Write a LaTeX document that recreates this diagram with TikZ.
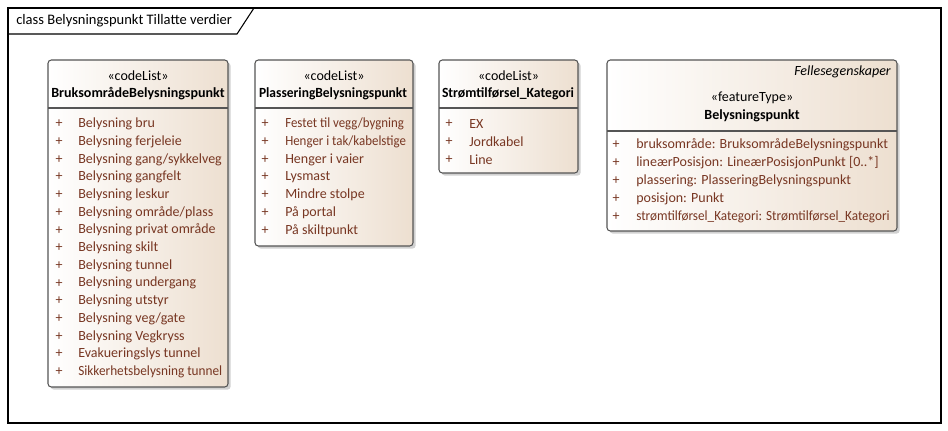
\documentclass[tikz,border=0pt]{standalone}
\usepackage{fontspec}
\setmainfont{Carlito}
\usetikzlibrary{shadows}
\definecolor{umlline}{RGB}{85,85,85}
\definecolor{umlfill}{RGB}{237,223,208}
\definecolor{umlattr}{RGB}{120,55,35}
\newcommand{\fitto}[2]{\resizebox{#1}{\height}{#2}}
\tikzset{
 umlbox/.style={draw=umlline,line width=0.8pt,rounded corners=2.5pt,left color=white,right color=umlfill,
  drop shadow={shadow xshift=2pt,shadow yshift=-2pt,fill=black!40,opacity=0.45}},
 stereo/.style={inner sep=0pt,font=\fontsize{10.5}{12}\selectfont},
 cname/.style={inner sep=0pt,font=\fontsize{10.5}{12}\selectfont\bfseries},
 attr/.style={inner sep=0pt,anchor=west,text=umlattr,font=\fontsize{10.5}{12}\selectfont},
 vis/.style={inner sep=0pt,text=umlattr,font=\fontsize{10.5}{12}\selectfont}
}
\begin{document}
\begin{tikzpicture}[x=0.75pt,y=-0.75pt]
 \useasboundingbox (0,0) rectangle (948,431);
 \draw[line width=0.8pt](8,8) rectangle (941,423);
 \draw[line width=0.8pt](8,34)--(237,34)--(254,8);
 \node[anchor=west,inner sep=0pt,font=\fontsize{10.9}{12}\selectfont] (title) at (16,21) {class Belysningspunkt Tillatte verdier};

 \path[umlbox](48,60) rectangle (228,387);
 \draw[umlline,line width=0.8pt](48,108)--(228,108);
 \node[stereo] (bruk-st) at (138,76) {«codeList»};
 \node[cname] (bruk-nm) at (138,94) {\fitto{130pt}{BruksområdeBelysningspunkt}};
 \node[vis] (bruk-v1) at (59,124) {+};
 \node[attr] (bruk-a1) at (78,124) {Belysning bru};
 \node[vis] (bruk-v2) at (59,141.7) {+};
 \node[attr] (bruk-a2) at (78,141.7) {Belysning ferjeleie};
 \node[vis] (bruk-v3) at (59,159.4) {+};
 \node[attr] (bruk-a3) at (78,159.4) {Belysning gang/sykkelveg};
 \node[vis] (bruk-v4) at (59,177.1) {+};
 \node[attr] (bruk-a4) at (78,177.1) {Belysning gangfelt};
 \node[vis] (bruk-v5) at (59,194.8) {+};
 \node[attr] (bruk-a5) at (78,194.8) {Belysning leskur};
 \node[vis] (bruk-v6) at (59,212.5) {+};
 \node[attr] (bruk-a6) at (78,212.5) {Belysning område/plass};
 \node[vis] (bruk-v7) at (59,230.2) {+};
 \node[attr] (bruk-a7) at (78,230.2) {Belysning privat område};
 \node[vis] (bruk-v8) at (59,247.9) {+};
 \node[attr] (bruk-a8) at (78,247.9) {Belysning skilt};
 \node[vis] (bruk-v9) at (59,265.6) {+};
 \node[attr] (bruk-a9) at (78,265.6) {Belysning tunnel};
 \node[vis] (bruk-v10) at (59,283.3) {+};
 \node[attr] (bruk-a10) at (78,283.3) {Belysning undergang};
 \node[vis] (bruk-v11) at (59,301) {+};
 \node[attr] (bruk-a11) at (78,301) {Belysning utstyr};
 \node[vis] (bruk-v12) at (59,318.7) {+};
 \node[attr] (bruk-a12) at (78,318.7) {Belysning veg/gate};
 \node[vis] (bruk-v13) at (59,336.4) {+};
 \node[attr] (bruk-a13) at (78,336.4) {Belysning Vegkryss};
 \node[vis] (bruk-v14) at (59,354.1) {+};
 \node[attr] (bruk-a14) at (78,354.1) {Evakueringslys tunnel};
 \node[vis] (bruk-v15) at (59,371.8) {+};
 \node[attr] (bruk-a15) at (78,371.8) {\fitto{108pt}{Sikkerhetsbelysning tunnel}};

 \path[umlbox](255,60) rectangle (413,246);
 \draw[umlline,line width=0.8pt](255,108)--(413,108);
 \node[stereo] (plas-st) at (334,76) {«codeList»};
 \node[cname] (plas-nm) at (333,94) {\fitto{111pt}{PlasseringBelysningspunkt}};
 \node[vis] (plas-v1) at (265,124) {+};
 \node[attr] (plas-a1) at (285,124) {\fitto{89pt}{Festet til vegg/bygning}};
 \node[vis] (plas-v2) at (265,141.7) {+};
 \node[attr] (plas-a2) at (285,141.7) {\fitto{90.5pt}{Henger i tak/kabelstige}};
 \node[vis] (plas-v3) at (265,159.4) {+};
 \node[attr] (plas-a3) at (285,159.4) {Henger i vaier};
 \node[vis] (plas-v4) at (265,177.1) {+};
 \node[attr] (plas-a4) at (285,177.1) {Lysmast};
 \node[vis] (plas-v5) at (265,194.8) {+};
 \node[attr] (plas-a5) at (285,194.8) {Mindre stolpe};
 \node[vis] (plas-v6) at (265,212.5) {+};
 \node[attr] (plas-a6) at (285,212.5) {På portal};
 \node[vis] (plas-v7) at (265,230.2) {+};
 \node[attr] (plas-a7) at (285,230.2) {På skiltpunkt};

 \path[umlbox](439,60) rectangle (578,173);
 \draw[umlline,line width=0.8pt](439,108)--(578,108);
 \node[stereo] (strm-st) at (508.5,76) {«codeList»};
 \node[cname] (strm-nm) at (508,94) {\fitto{99pt}{Strømtilførsel\_Kategori}};
 \node[vis] (strm-v1) at (449,124) {+};
 \node[attr] (strm-a1) at (469,124) {EX};
 \node[vis] (strm-v2) at (449,141.7) {+};
 \node[attr] (strm-a2) at (469,141.7) {Jordkabel};
 \node[vis] (strm-v3) at (449,159.4) {+};
 \node[attr] (strm-a3) at (469,159.4) {Line};

 \path[umlbox](607,60) rectangle (897,231);
 \draw[umlline,line width=0.8pt](607,131)--(897,131);
 \node[anchor=east,inner sep=0pt,font=\fontsize{10.5}{12}\selectfont\itshape] (punkt-tag) at (891,72) {Fellesegenskaper};
 \node[stereo] (punkt-st) at (752,98) {«featureType»};
 \node[cname] (punkt-nm) at (752,116) {Belysningspunkt};
 \node[vis] (punkt-v1) at (616,145) {+};
 \node[attr] (punkt-a1) at (636,145) {bruksområde: BruksområdeBelysningspunkt};
 \node[vis] (punkt-v2) at (616,163) {+};
 \node[attr] (punkt-a2) at (636,163) {lineærPosisjon: LineærPosisjonPunkt [0..*]};
 \node[vis] (punkt-v3) at (616,181) {+};
 \node[attr] (punkt-a3) at (636,181) {plassering: PlasseringBelysningspunkt};
 \node[vis] (punkt-v4) at (616,199) {+};
 \node[attr] (punkt-a4) at (636,199) {posisjon: Punkt};
 \node[vis] (punkt-v5) at (616,217) {+};
 \node[attr] (punkt-a5) at (636,217) {\fitto{190pt}{strømtilførsel\_Kategori: Strømtilførsel\_Kategori}};
\end{tikzpicture}
\end{document}
